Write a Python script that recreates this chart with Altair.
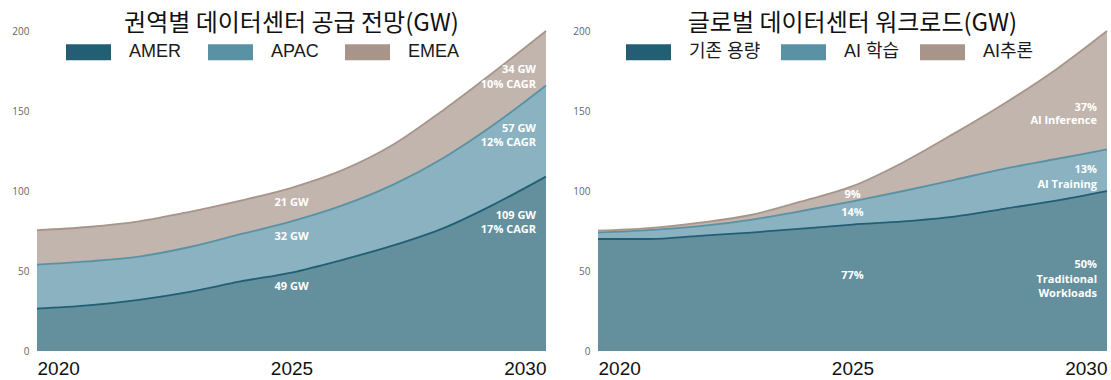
import altair as alt
import pandas as pd

YEARS = [2020, 2021, 2022, 2023, 2024, 2025, 2026, 2027, 2028, 2029, 2030]

# Regional data-center supply, GW per region (stacked bottom to top)
REGIONS = ["AMER", "APAC", "EMEA"]
AMER = [26.5, 28.5, 32, 37, 43.5, 49, 57, 66, 77, 92, 109]
APAC = [27.5, 27.5, 27, 28, 29.5, 32, 34, 38, 44, 50, 57]
EMEA = [21.5, 21.5, 22, 22, 21, 21, 22, 25, 30, 33, 34]

# Global data-center workload, GW per workload type (stacked bottom to top)
WORKLOADS = ["기존 용량", "AI 학습", "AI추론"]
TRADITIONAL = [70, 70, 72, 74, 76.5, 79, 81, 84, 89, 94, 100]
TRAINING = [4, 5.5, 6, 8, 11, 14.5, 19, 23, 25, 26, 26]
INFERENCE = [1.2, 1.3, 2.2, 3, 6, 9.5, 18, 29, 41, 56, 74]
WORKLOAD_CAPTIONS = [["Traditional", "Workloads"], ["AI Training"], ["AI Inference"]]

TITLES = ["권역별 데이터센터 공급 전망(GW)", "글로벌 데이터센터 워크로드(GW)"]

# Swatch / outline colours; the filled bands use them at reduced opacity
PALETTE = ["#225f74", "#5a92a5", "#a8958a"]

# Label anchors in GW (mid-period labels at 2025, end labels at 2030)
SUPPLY_MID_AT = [40, 71, 92.5]
SUPPLY_END_AT = [[84.5, 75.5], [139, 130], [175.5, 166.5]]
WORKLOAD_MID_AT = [47, 86, 97.5]
WORKLOAD_END_AT = [[53.7, 44.5, 35.6], [113, 104], [152, 143.5]]

W, H = 509, 320
SANS = "Liberation Sans, Noto Sans CJK KR"
KR = "Noto Sans CJK KR"
LABEL_FONT = "Open Sans"
SWATCH = "M-1,-0.36H1V0.36H-1Z"


def long_table(names, series):
    rows = []
    for rank, (name, vals) in enumerate(zip(names, series)):
        for yr, v in zip(YEARS, vals):
            rows.append({"year": yr, "series": name, "value": v, "rank": rank})
    return pd.DataFrame(rows)


def panel(title, names, series, mid_rows, end_rows, legend_x, col_pad):
    df = long_table(names, series)
    base = alt.Chart(df).transform_stack(
        stack="value",
        groupby=["year"],
        as_=["y0", "y1"],
        sort=[alt.SortField("rank", order="ascending")],
    )
    x = alt.X(
        "year:Q",
        scale=alt.Scale(domain=[2020, 2030], nice=False, zero=False),
        axis=alt.Axis(
            values=[2020, 2025, 2030], format="d", title=None, labelFlush=True,
            labelFontSize=19, labelFont=SANS, labelColor="#111111",
            labelPadding=8, ticks=False, domain=False, grid=False,
        ),
    )
    y = alt.Y(
        "y1:Q",
        scale=alt.Scale(domain=[0, 200], nice=False),
        axis=alt.Axis(
            values=[0, 50, 100, 150, 200], title=None, labelFontSize=10,
            labelFont=LABEL_FONT, labelColor="#666666", labelPadding=8,
            ticks=False, domain=False, grid=False,
        ),
    )
    area = base.mark_area(interpolate="monotone", fillOpacity=0.7).encode(
        x=x,
        y=y,
        y2="y0:Q",
        color=alt.Color(
            "series:N",
            scale=alt.Scale(domain=names, range=PALETTE),
            legend=alt.Legend(
                title=None, orient="none", legendX=legend_x, legendY=-1.5,
                direction="horizontal", symbolType=SWATCH, symbolSize=2025,
                symbolStrokeWidth=0, symbolOpacity=1, labelFontSize=18,
                labelFont=SANS, labelColor="#1a1a1a", labelOffset=18,
                columnPadding=col_pad,
            ),
        ),
    )
    line = base.mark_line(interpolate="monotone", strokeWidth=1.8).encode(
        x="year:Q",
        y="y1:Q",
        stroke=alt.Stroke("series:N", scale=alt.Scale(domain=names, range=PALETTE), legend=None),
    )
    mid = alt.Chart(pd.DataFrame(mid_rows)).mark_text(
        font=LABEL_FONT, fontSize=11, fontWeight="bold", color="white",
        align="center", baseline="middle",
    ).encode(x="year:Q", y="pos:Q", text="text:N")
    end = alt.Chart(pd.DataFrame(end_rows)).mark_text(
        font=LABEL_FONT, fontSize=11, fontWeight="bold", color="white",
        align="right", baseline="middle", dx=-10,
    ).encode(x="year:Q", y="pos:Q", text="text:N")
    head = alt.Chart(pd.DataFrame({"t": [title]})).mark_text(
        font=KR, fontSize=24, color="#111111", align="center", baseline="middle",
    ).encode(text="t:N", x=alt.value(W / 2), y=alt.value(-7))
    return alt.layer(area, line, mid, end, head).properties(width=W, height=H)


# Supply labels: GW at 2025, GW and 2025-2030 CAGR at 2030
supply = [AMER, APAC, EMEA]
s_mid, s_end = [], []
for vals, m_at, e_at in zip(supply, SUPPLY_MID_AT, SUPPLY_END_AT):
    v25, v30 = vals[YEARS.index(2025)], vals[YEARS.index(2030)]
    cagr = round(((v30 / v25) ** (1 / 5) - 1) * 100)
    s_mid.append({"year": 2025, "pos": m_at, "text": f"{v25:g} GW"})
    for txt, p in zip([f"{v30:g} GW", f"{cagr}% CAGR"], e_at):
        s_end.append({"year": 2030, "pos": p, "text": txt})

# Workload labels: share of the yearly total
workload = [TRADITIONAL, TRAINING, INFERENCE]
i25, i30 = YEARS.index(2025), YEARS.index(2030)
tot25 = sum(s[i25] for s in workload)
tot30 = sum(s[i30] for s in workload)
w_mid, w_end = [], []
for vals, caption, m_at, e_at in zip(workload, WORKLOAD_CAPTIONS, WORKLOAD_MID_AT, WORKLOAD_END_AT):
    w_mid.append({"year": 2025, "pos": m_at, "text": f"{round(vals[i25] / tot25 * 100)}%"})
    for txt, p in zip([f"{round(vals[i30] / tot30 * 100)}%"] + caption, e_at):
        w_end.append({"year": 2030, "pos": p, "text": txt})

left = panel(TITLES[0], REGIONS, supply, s_mid, s_end, legend_x=29, col_pad=26)
right = panel(TITLES[1], WORKLOADS, workload, w_mid, w_end, legend_x=28, col_pad=20)

chart = (
    alt.hconcat(left, right, spacing=22)
    .resolve_scale(color="independent", stroke="independent")
    .resolve_legend(color="independent")
    .properties(padding={"left": 11, "top": 12, "right": 0, "bottom": 0})
    .configure_view(stroke=None)
)

chart.save("out.html", embed_options={"renderer": "svg", "actions": False})
